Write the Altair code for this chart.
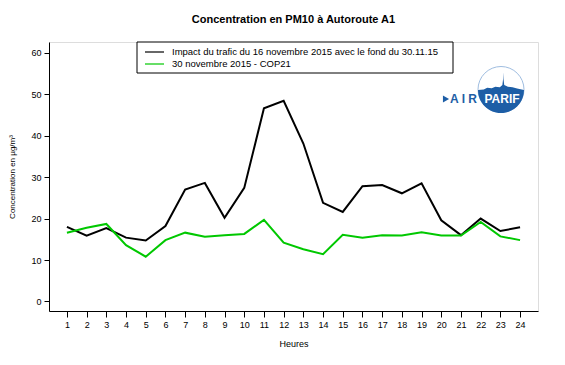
import altair as alt
import pandas as pd

hours = list(range(1, 25))
serie_trafic = [18.0, 15.9, 17.7, 15.4, 14.7, 18.2, 27.0, 28.6, 20.2, 27.4, 46.6, 48.4,
                38.1, 23.8, 21.6, 27.8, 28.1, 26.1, 28.5, 19.6, 16.0, 20.0, 17.0, 17.9]
serie_cop21 = [16.6, 17.8, 18.7, 13.6, 10.8, 14.8, 16.6, 15.6, 16.0, 16.3, 19.7, 14.2,
               12.6, 11.4, 16.1, 15.4, 16.0, 15.9, 16.7, 15.9, 15.9, 19.2, 15.7, 14.8]
names = ["Impact du trafic du 16 novembre 2015 avec le fond du 30.11.15",
         "30 novembre 2015 - COP21"]
colors = ["#000000", "#00c800"]
y_ticks = [0, 10, 20, 30, 40, 50, 60]

df = pd.DataFrame({
    "heure": hours * 2,
    "val": serie_trafic + serie_cop21,
    "serie": [names[0]] * 24 + [names[1]] * 24,
})

FONT = "Liberation Sans"

x_enc = alt.X("heure:Q",
              scale=alt.Scale(domain=[0.09, 24.91], nice=False, zero=False),
              axis=alt.Axis(values=hours, title="Heures", grid=False, tickSize=6,
                            labelPadding=3, titlePadding=10, labelFontSize=9,
                            titleFontSize=9, titleFontWeight="normal",
                            labelFlush=False, domainColor="black", tickColor="black"))
y_enc = alt.Y("val:Q",
              scale=alt.Scale(domain=[-2.3, 62.6], nice=False, zero=False),
              axis=alt.Axis(values=y_ticks, title="Concentration en µg/m³", grid=False,
                            tickSize=5, labelPadding=3, titlePadding=14, labelFontSize=9,
                            titleFontSize=8, titleFontWeight="normal",
                            domainColor="black", tickColor="black"))
c_enc = alt.Color("serie:N", scale=alt.Scale(domain=names, range=colors), legend=None)

base = alt.Chart(df)
line_black = base.transform_filter(alt.datum.serie == names[0]).mark_line(
    strokeWidth=2).encode(x=x_enc, y=y_enc, color=c_enc)
line_green = base.transform_filter(alt.datum.serie == names[1]).mark_line(
    strokeWidth=2).encode(x=x_enc, y=y_enc, color=c_enc)

# manual legend box (decoration)
one = pd.DataFrame({"a": [0]})
lb = alt.Chart(one)
box = lb.mark_rect(fill="white", stroke="black", strokeWidth=1).encode(
    x=alt.value(88), x2=alt.value(404), y=alt.value(0), y2=alt.value(31))
leg_items = []
for i, (nm, col) in enumerate(zip(names, colors)):
    yy = 10 + 12 * i
    leg_items.append(lb.mark_rule(color=col, strokeWidth=1.2).encode(
        x=alt.value(96), x2=alt.value(115), y=alt.value(yy)))
    leg_items.append(lb.mark_text(text=nm, font=FONT, fontSize=9.5, color="black",
                                  align="left", baseline="middle").encode(
        x=alt.value(123), y=alt.value(yy)))

# AIRPARIF logo (decoration)
BLUE = "#1d5ea6"
circle_bg = lb.mark_point(shape="circle", filled=True, fill="white", stroke="#9fbde0",
                          strokeWidth=1, size=2116, opacity=1).encode(
    x=alt.value(452), y=alt.value(47.5))
sky_path = ("M -1 0.02 L -0.75 0.0 L -0.6 -0.08 L -0.4 -0.05 L -0.25 -0.12 L -0.05 -0.1 "
            "L 0.06 -0.2 L 0.09 -0.45 L 0.1 -0.75 L 0.11 -0.45 L 0.14 -0.2 L 0.3 -0.12 "
            "L 0.5 -0.1 L 0.7 -0.04 L 1 0.02 A 1 1 0 0 1 -1 0.02 Z")
sky = lb.mark_point(shape=sky_path, filled=True, fill=BLUE, strokeWidth=0, size=2116,
                    opacity=1).encode(x=alt.value(452), y=alt.value(47.5))
parif = lb.mark_text(text="PARIF", font=FONT, fontWeight="bold", fontSize=12,
                     color="white", align="center", baseline="middle").encode(
    x=alt.value(453), y=alt.value(57))
air = lb.mark_text(text="A I R", font=FONT, fontWeight="bold", fontSize=12,
                   color=BLUE, align="right", baseline="middle").encode(
    x=alt.value(428), y=alt.value(57))
tri = lb.mark_point(shape="triangle-right", filled=True, fill=BLUE, size=50,
                    opacity=1).encode(x=alt.value(397), y=alt.value(57))

chart = alt.layer(line_black, line_green, box, *leg_items, circle_bg, sky, parif, air,
                  tri).properties(
    width=489, height=269,
    autosize=alt.AutoSizeParams(type="none"),
    padding={"left": 41, "top": 34, "right": 10, "bottom": 40},
    title=alt.TitleParams("Concentration en PM10 à Autoroute A1", font=FONT,
                          fontSize=11, fontWeight="bold", anchor="middle", offset=17,
                          color="black"),
).configure_view(stroke="black", strokeWidth=1).configure_axis(
    labelFont=FONT, titleFont=FONT, labelColor="#222", titleColor="#222"
).configure(background="white")

chart.save("out.html", embed_options={"renderer": "svg", "actions": False})
